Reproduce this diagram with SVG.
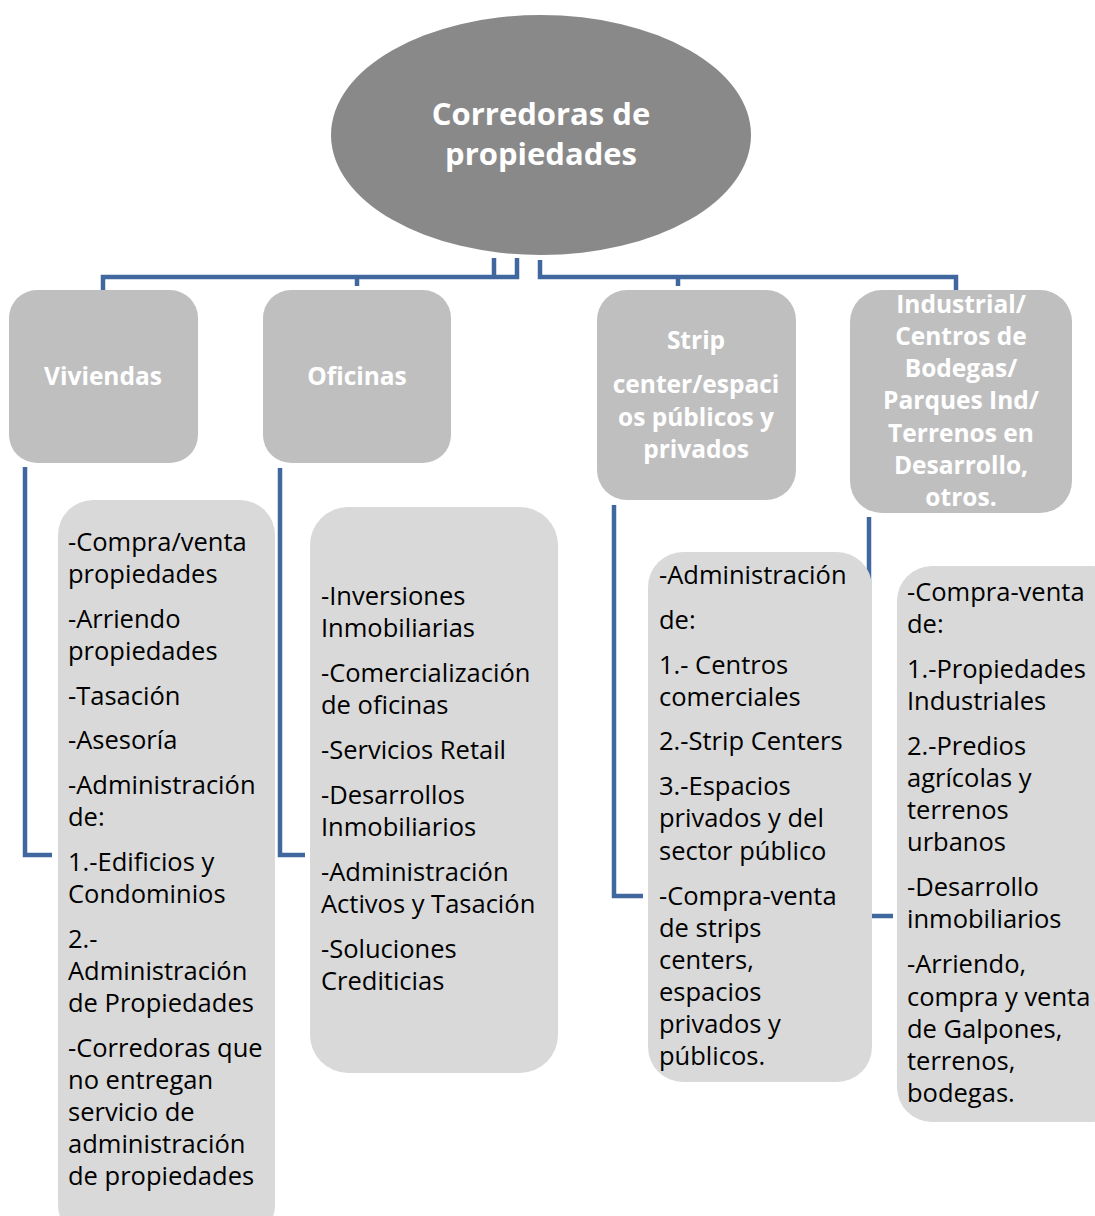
<svg xmlns="http://www.w3.org/2000/svg" width="1095" height="1216" viewBox="0 0 1095 1216">
<style>
.hdr{fill:#bfbfbf}
.det{fill:#d9d9d9}
.conn{fill:none;stroke:#41689e;stroke-width:4.5}
.ht{font-family:"Open Sans","Liberation Sans",sans-serif;font-weight:bold;fill:#ffffff;font-size:24.5px;text-anchor:middle}
.dt{font-family:"Open Sans","Liberation Sans",sans-serif;fill:#000000;font-size:25.5px}
.tt{font-family:"Open Sans","Liberation Sans",sans-serif;font-weight:bold;fill:#ffffff;font-size:31px;text-anchor:middle}
</style>
<rect width="1095" height="1216" fill="#ffffff"/>
<g id="connectors">
<path class="conn" d="M517,258 V277 H103 V290"/>
<path class="conn" d="M494,258 V277"/>
<path class="conn" d="M357,277 V286"/>
<path class="conn" d="M540,260 V277 H956 V290"/>
<path class="conn" d="M678,277 V286"/>
<path class="conn" d="M25,467 V855 H52"/>
<path class="conn" d="M280,468 V855 H305"/>
<path class="conn" d="M614,505 V896 H643"/>
<path class="conn" d="M869,517 V916 H893"/>
</g>
<g id="root">
<ellipse cx="541" cy="135" rx="210" ry="120" fill="#898989"/>
<text class="tt" x="541" y="125">Corredoras de</text>
<text class="tt" x="541" y="165">propiedades</text>
</g>
<g id="viviendas">
<rect class="hdr" x="9" y="290" width="189" height="173" rx="28"/>
<text class="ht" x="103" y="385">Viviendas</text>
</g>
<g id="oficinas">
<rect class="hdr" x="263" y="290" width="188" height="173" rx="28"/>
<text class="ht" x="357" y="385">Oficinas</text>
</g>
<g id="strip">
<rect class="hdr" x="597" y="290" width="199" height="210" rx="30"/>
<text class="ht" x="696" y="349">Strip</text>
<text class="ht" x="696" y="393">center/espaci</text>
<text class="ht" x="696" y="426">os públicos y</text>
<text class="ht" x="696" y="458">privados</text>
</g>
<g id="industrial">
<rect class="hdr" x="850" y="290" width="222" height="223" rx="32"/>
<text class="ht" x="961" y="313">Industrial/</text>
<text class="ht" x="961" y="345">Centros de</text>
<text class="ht" x="961" y="377">Bodegas/</text>
<text class="ht" x="961" y="409">Parques Ind/</text>
<text class="ht" x="961" y="442">Terrenos en</text>
<text class="ht" x="961" y="474">Desarrollo,</text>
<text class="ht" x="961" y="506">otros.</text>
</g>
<g id="viviendas-detalle">
<rect class="det" x="58" y="500" width="217" height="740" rx="35"/>
<text class="dt" x="68" y="551">-Compra/venta</text>
<text class="dt" x="68" y="583">propiedades</text>
<text class="dt" x="68" y="628">-Arriendo</text>
<text class="dt" x="68" y="660">propiedades</text>
<text class="dt" x="68" y="705">-Tasación</text>
<text class="dt" x="68" y="749">-Asesoría</text>
<text class="dt" x="68" y="794">-Administración</text>
<text class="dt" x="68" y="826">de:</text>
<text class="dt" x="68" y="871">1.-Edificios y</text>
<text class="dt" x="68" y="903">Condominios</text>
<text class="dt" x="68" y="948">2.-</text>
<text class="dt" x="68" y="980">Administración</text>
<text class="dt" x="68" y="1012">de Propiedades</text>
<text class="dt" x="68" y="1057">-Corredoras que</text>
<text class="dt" x="68" y="1089">no entregan</text>
<text class="dt" x="68" y="1121">servicio de</text>
<text class="dt" x="68" y="1153">administración</text>
<text class="dt" x="68" y="1185">de propiedades</text>
</g>
<g id="oficinas-detalle">
<rect class="det" x="310" y="507" width="248" height="566" rx="38"/>
<text class="dt" x="321" y="605">-Inversiones</text>
<text class="dt" x="321" y="637">Inmobiliarias</text>
<text class="dt" x="321" y="682">-Comercialización</text>
<text class="dt" x="321" y="714">de oficinas</text>
<text class="dt" x="321" y="759">-Servicios Retail</text>
<text class="dt" x="321" y="804">-Desarrollos</text>
<text class="dt" x="321" y="836">Inmobiliarios</text>
<text class="dt" x="321" y="881">-Administración</text>
<text class="dt" x="321" y="913">Activos y Tasación</text>
<text class="dt" x="321" y="958">-Soluciones</text>
<text class="dt" x="321" y="990">Crediticias</text>
</g>
<g id="strip-detalle">
<rect class="det" x="648" y="552" width="224" height="530" rx="35"/>
<text class="dt" x="659" y="584">-Administración</text>
<text class="dt" x="659" y="629">de:</text>
<text class="dt" x="659" y="674">1.- Centros</text>
<text class="dt" x="659" y="706">comerciales</text>
<text class="dt" x="659" y="750">2.-Strip Centers</text>
<text class="dt" x="659" y="795">3.-Espacios</text>
<text class="dt" x="659" y="827">privados y del</text>
<text class="dt" x="659" y="860">sector público</text>
<text class="dt" x="659" y="905">-Compra-venta</text>
<text class="dt" x="659" y="937">de strips</text>
<text class="dt" x="659" y="969">centers,</text>
<text class="dt" x="659" y="1001">espacios</text>
<text class="dt" x="659" y="1033">privados y</text>
<text class="dt" x="659" y="1065">públicos.</text>
</g>
<g id="industrial-detalle">
<rect class="det" x="897" y="566" width="230" height="556" rx="35"/>
<text class="dt" x="907" y="601">-Compra-venta</text>
<text class="dt" x="907" y="633">de:</text>
<text class="dt" x="907" y="678">1.-Propiedades</text>
<text class="dt" x="907" y="710">Industriales</text>
<text class="dt" x="907" y="755">2.-Predios</text>
<text class="dt" x="907" y="787">agrícolas y</text>
<text class="dt" x="907" y="819">terrenos</text>
<text class="dt" x="907" y="851">urbanos</text>
<text class="dt" x="907" y="896">-Desarrollo</text>
<text class="dt" x="907" y="928">inmobiliarios</text>
<text class="dt" x="907" y="973">-Arriendo,</text>
<text class="dt" x="907" y="1006">compra y venta</text>
<text class="dt" x="907" y="1038">de Galpones,</text>
<text class="dt" x="907" y="1070">terrenos,</text>
<text class="dt" x="907" y="1102">bodegas.</text>
</g>
</svg>
